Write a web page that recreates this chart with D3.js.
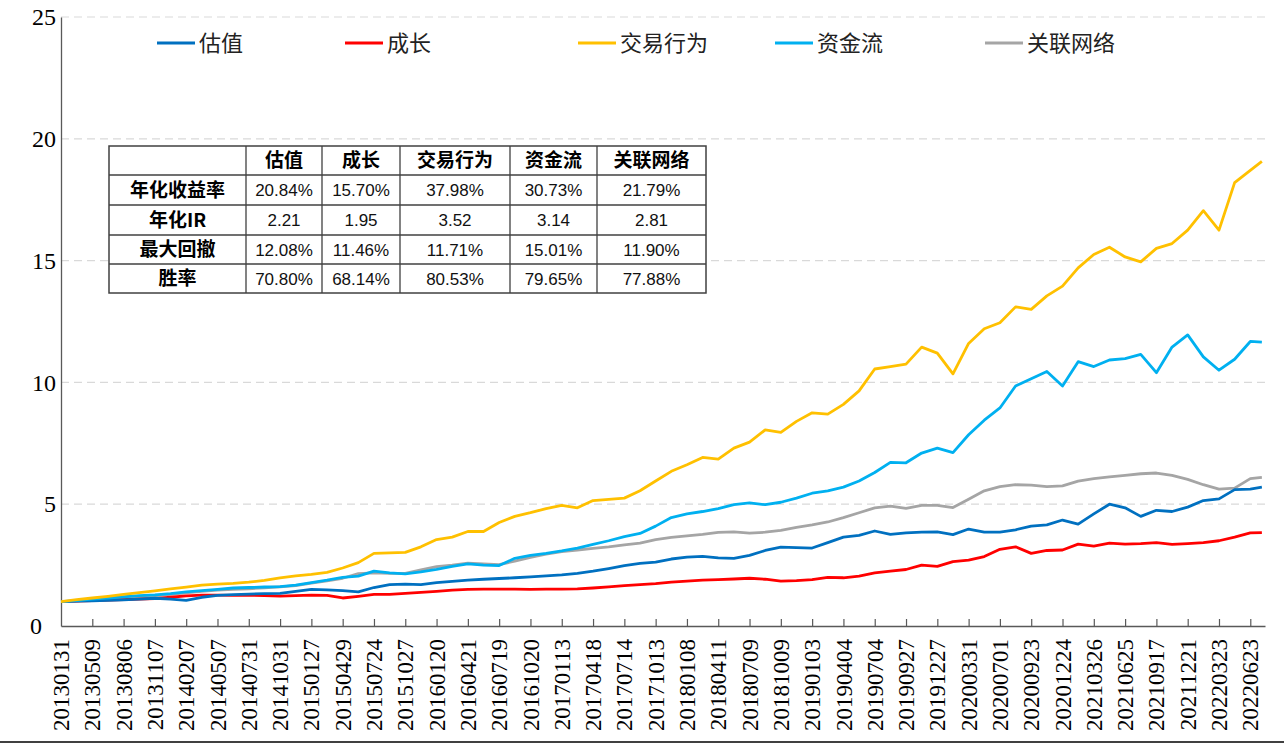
<!DOCTYPE html>
<html>
<head>
<meta charset="utf-8">
<script src="https://cdn.jsdelivr.net/npm/d3@7"></script>
<style>
  html, body { margin: 0; padding: 0; background: #fff; }
  svg { display: block; }
</style>
</head>
<body>
<svg id="chart" width="1284" height="744"></svg>
<script>
// ---------------- DATA ----------------
const tickLabels = ["20130131","20130509","20130806","20131107","20140207","20140507","20140731","20141031","20150127","20150429","20150724","20151027","20160120","20160421","20160719","20161020","20170113","20170418","20170714","20171013","20180108","20180411","20180709","20181009","20190103","20190404","20190704","20190927","20191227","20200331","20200701","20200923","20201224","20210326","20210625","20210917","20211221","20220323","20220623"];

const seriesNames = ["估值","成长","交易行为","资金流","关联网络"];
const seriesColors = ["#0070C0","#FF0000","#FFC000","#00B0F0","#A5A5A5"];

// samples every half tick interval (30 trading days) + last day
const valuation = [1.00,1.02,1.03,1.05,1.07,1.10,1.14,1.10,1.05,1.18,1.26,1.29,1.31,1.33,1.34,1.42,1.50,1.48,1.45,1.40,1.58,1.70,1.72,1.70,1.78,1.83,1.88,1.92,1.95,1.98,2.02,2.06,2.10,2.16,2.25,2.36,2.48,2.57,2.62,2.75,2.83,2.86,2.80,2.78,2.90,3.10,3.24,3.22,3.20,3.42,3.65,3.72,3.90,3.76,3.82,3.85,3.86,3.75,3.98,3.85,3.85,3.95,4.10,4.15,4.35,4.18,4.60,5.00,4.85,4.50,4.75,4.70,4.88,5.15,5.22,5.60,5.62,5.70];
const growth = [1.00,1.02,1.04,1.06,1.08,1.10,1.12,1.18,1.24,1.27,1.27,1.26,1.26,1.25,1.23,1.25,1.27,1.26,1.15,1.22,1.30,1.30,1.34,1.38,1.42,1.47,1.50,1.51,1.51,1.51,1.50,1.51,1.51,1.52,1.56,1.61,1.66,1.70,1.74,1.80,1.84,1.88,1.90,1.93,1.96,1.92,1.84,1.86,1.90,2.00,1.98,2.05,2.18,2.25,2.32,2.50,2.45,2.64,2.70,2.85,3.15,3.25,2.98,3.10,3.12,3.36,3.28,3.40,3.36,3.38,3.42,3.35,3.38,3.42,3.50,3.65,3.82,3.83];
const trading = [1.00,1.08,1.15,1.22,1.30,1.37,1.44,1.52,1.60,1.68,1.72,1.75,1.80,1.87,1.98,2.06,2.12,2.20,2.38,2.60,2.98,3.00,3.02,3.25,3.55,3.65,3.88,3.88,4.25,4.50,4.65,4.82,4.95,4.85,5.15,5.20,5.25,5.55,5.95,6.35,6.62,6.92,6.85,7.30,7.55,8.05,7.95,8.40,8.75,8.70,9.10,9.65,10.55,10.65,10.75,11.45,11.20,10.35,11.60,12.20,12.45,13.10,13.00,13.55,13.95,14.70,15.25,15.55,15.15,14.95,15.50,15.70,16.25,17.05,16.25,18.20,18.70,19.07];
const moneyFlow = [1.00,1.04,1.10,1.15,1.20,1.25,1.28,1.33,1.40,1.45,1.50,1.56,1.58,1.60,1.62,1.68,1.78,1.88,2.00,2.05,2.25,2.18,2.14,2.22,2.32,2.45,2.55,2.50,2.48,2.78,2.90,2.98,3.08,3.20,3.35,3.50,3.67,3.80,4.10,4.45,4.60,4.70,4.82,4.98,5.05,4.98,5.08,5.25,5.45,5.55,5.70,5.95,6.30,6.72,6.70,7.10,7.30,7.12,7.85,8.45,8.95,9.85,10.15,10.45,9.85,10.85,10.65,10.92,10.98,11.15,10.40,11.45,11.95,11.05,10.50,10.95,11.68,11.65];
const network = [1.00,1.03,1.07,1.10,1.14,1.18,1.24,1.30,1.36,1.42,1.47,1.50,1.53,1.57,1.61,1.66,1.76,1.85,1.96,2.15,2.18,2.16,2.16,2.30,2.44,2.50,2.58,2.55,2.52,2.66,2.82,2.95,3.05,3.12,3.19,3.25,3.33,3.40,3.55,3.64,3.70,3.76,3.84,3.86,3.81,3.85,3.93,4.05,4.15,4.27,4.45,4.65,4.85,4.92,4.83,4.95,4.95,4.86,5.20,5.55,5.72,5.80,5.78,5.72,5.75,5.95,6.05,6.12,6.18,6.25,6.28,6.18,6.02,5.80,5.62,5.66,6.05,6.10];

const yTicks = [0,5,10,15,20,25];

const tableCols = ["估值","成长","交易行为","资金流","关联网络"];
const tableRows = ["年化收益率","年化IR","最大回撤","胜率"];
const tableVals = [
  ["20.84%","15.70%","37.98%","30.73%","21.79%"],
  ["2.21","1.95","3.52","3.14","2.81"],
  ["12.08%","11.46%","11.71%","15.01%","11.90%"],
  ["70.80%","68.14%","80.53%","79.65%","77.88%"]
];

// ---------------- LAYOUT ----------------
const SERIF = "'Liberation Serif', 'Times New Roman', 'DejaVu Serif', serif";
const CJK = "'Noto Sans CJK SC', sans-serif";
const SANS = "'Liberation Sans', Arial, sans-serif";

const svg = d3.select("#chart");
const X0 = 61, X1 = 1265, Y0 = 626, Y1 = 17;
const lastPos = 38.37;
const samplePos = d3.range(0, 38.01, 0.5).concat([lastPos]);

const x = d3.scaleLinear().domain([0, 38.47]).range([X0, X1]);
const y = d3.scaleLinear().domain([0, 25]).range([Y0, Y1]);

// gridlines
svg.append("g").selectAll("line").data(yTicks.filter(d => d > 0)).join("line")
  .attr("x1", X0).attr("x2", X1)
  .attr("y1", d => y(d)).attr("y2", d => y(d))
  .attr("stroke", "#d9d9d9").attr("stroke-width", 1.2)
  .attr("stroke-dasharray", "8,5");

// y axis
const yAxis = d3.axisLeft(y).tickValues(yTicks).tickSize(0).tickPadding(5);
const gy = svg.append("g").attr("transform", `translate(${X0},0)`).call(yAxis);
gy.select(".domain").attr("stroke", "#595959").attr("stroke-width", 1.3);
gy.selectAll("text").style("font-family", SERIF)
  .style("font-size", "24px").attr("fill", "#000")
  .attr("dx", d => d === 0 ? -14 : 0);

// x axis (ticks inward)
const xAxis = d3.axisBottom(x).tickValues(d3.range(0, tickLabels.length))
  .tickFormat(i => tickLabels[i]).tickSizeInner(-7).tickSizeOuter(0).tickPadding(10);
const gx = svg.append("g").attr("transform", `translate(0,${Y0})`).call(xAxis);
gx.select(".domain").attr("stroke", "#595959").attr("stroke-width", 1.3);
gx.selectAll(".tick line").attr("stroke", "#595959").attr("stroke-width", 1.2)
  .attr("opacity", (d, i) => i === 0 ? 0 : 1);
gx.selectAll("text")
  .style("font-family", SERIF)
  .style("font-size", "23px").attr("fill", "#000")
  .attr("transform", "rotate(-90)")
  .attr("text-anchor", "end")
  .attr("x", -13).attr("y", 0).attr("dy", "0.33em");

// lines
const allSeries = [valuation, growth, trading, moneyFlow, network];
const drawOrder = [4, 1, 0, 3, 2];
const line = d3.line().x((d, i) => x(samplePos[i])).y(d => y(d));
svg.append("g").selectAll("path").data(drawOrder).join("path")
  .attr("d", k => line(allSeries[k]))
  .attr("fill", "none")
  .attr("stroke", k => seriesColors[k])
  .attr("stroke-width", 2.8)
  .attr("stroke-linejoin", "round");

// legend
const legendX = [157, 345, 578, 775, 985];
const lg = svg.append("g").selectAll("g").data(seriesNames).join("g")
  .attr("transform", (d, i) => `translate(${legendX[i]},43)`);
lg.append("line").attr("x1", 0).attr("x2", 38).attr("y1", 0).attr("y2", 0)
  .attr("stroke", (d, i) => seriesColors[i]).attr("stroke-width", 3);
lg.append("text").attr("x", 42).attr("y", 0).attr("dy", "0.36em")
  .style("font-family", CJK).style("font-size", "22px")
  .attr("fill", "#222").text(d => d);

// table
const colB = [109, 246, 322, 400, 510, 597, 706];
const rowB = [146, 175, 205, 235, 264, 293];
const tg = svg.append("g");
tg.append("rect").attr("x", colB[0]).attr("y", rowB[0])
  .attr("width", colB[6] - colB[0]).attr("height", rowB[5] - rowB[0])
  .attr("fill", "#fff").attr("stroke", "#404040").attr("stroke-width", 1.5);
tg.selectAll("line.v").data(colB.slice(1, -1)).join("line").attr("class", "v")
  .attr("x1", d => d).attr("x2", d => d).attr("y1", rowB[0]).attr("y2", rowB[5])
  .attr("stroke", "#404040").attr("stroke-width", 1.3);
tg.selectAll("line.h").data(rowB.slice(1, -1)).join("line").attr("class", "h")
  .attr("x1", colB[0]).attr("x2", colB[6]).attr("y1", d => d).attr("y2", d => d)
  .attr("stroke", "#404040").attr("stroke-width", 1.3);
const cx = i => (colB[i] + colB[i + 1]) / 2;
const cy = i => (rowB[i] + rowB[i + 1]) / 2;
tg.selectAll("text.hdr").data(tableCols).join("text").attr("class", "hdr")
  .attr("x", (d, i) => cx(i + 1)).attr("y", cy(0)).attr("dy", "0.36em")
  .attr("text-anchor", "middle").style("font-family", CJK)
  .style("font-weight", "bold").style("font-size", "19px").attr("fill", "#000").text(d => d);
tg.selectAll("text.rl").data(tableRows).join("text").attr("class", "rl")
  .attr("x", cx(0)).attr("y", (d, i) => cy(i + 1)).attr("dy", "0.36em")
  .attr("text-anchor", "middle").style("font-family", CJK)
  .style("font-weight", "bold").style("font-size", "19px").attr("fill", "#000").text(d => d);
tableVals.forEach((row, r) => {
  tg.selectAll(null).data(row).join("text")
    .attr("x", (d, i) => cx(i + 1)).attr("y", cy(r + 1)).attr("dy", "0.36em")
    .attr("text-anchor", "middle").style("font-family", SANS)
    .style("font-size", "17px").attr("fill", "#111").text(d => d);
});

// bottom frame line
svg.append("line").attr("x1", 0).attr("x2", 1284).attr("y1", 742).attr("y2", 742)
  .attr("stroke", "#404040").attr("stroke-width", 2);
</script>
</body>
</html>
